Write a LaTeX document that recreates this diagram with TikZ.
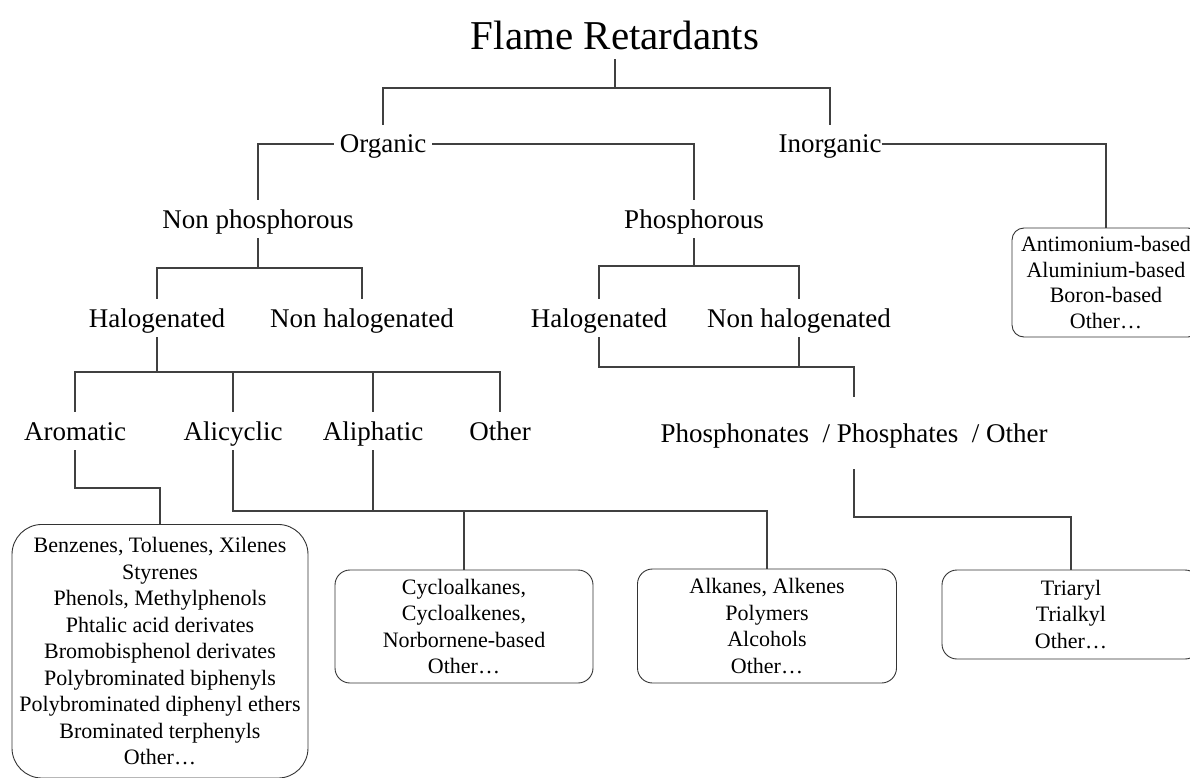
\documentclass[tikz,border=0pt]{standalone}
\usepackage{fontspec}
\setmainfont{Liberation Serif}
\usepackage{tikz}

\begin{document}
\begin{tikzpicture}[x=1pt, y=-1pt,
    conn/.style={draw=black!75, line width=1.1pt},
    ttl/.style={font=\fontsize{41}{48}\selectfont, anchor=base, text depth=0pt, inner ysep=9pt},
    lvl/.style={font=\fontsize{27}{32}\selectfont, anchor=base, text height=24pt, text depth=6pt, inner ysep=4pt, inner xsep=6pt},
    listbox/.style={draw=black!80, line width=0.9pt, rounded corners=15pt, align=center,
        font=\fontsize{22}{26.5}\selectfont, inner sep=0pt}]

    \useasboundingbox (0,0) rectangle (1190,778);
    \clip (0,0) rectangle (1190,778);

    % tree labels
    \node[ttl] (fr) at (615,50) {Flame Retardants};

    \node[lvl] (org) at (383,153) {Organic};
    \node[lvl, inner xsep=0pt] (inorg) at (830,153) {Inorganic};

    \node[lvl] (nonphos) at (258,228) {Non phosphorous};
    \node[lvl] (phos) at (694,228) {Phosphorous};

    \node[lvl] (halA) at (157,327) {Halogenated};
    \node[lvl] (nonhalA) at (362,327) {Non halogenated};
    \node[lvl] (halB) at (599,327) {Halogenated};
    \node[lvl] (nonhalB) at (799,327) {Non halogenated};

    \node[lvl] (arom) at (75,440) {Aromatic};
    \node[lvl] (alicy) at (233,440) {Alicyclic};
    \node[lvl] (aliph) at (373,440) {Aliphatic};
    \node[lvl] (othr) at (500,440) {Other};
    \node[lvl, inner ysep=21pt] (phosph) at (854,442) {Phosphonates\ \ / Phosphates\ \ / Other};

    % lists
    \node[listbox, rounded corners=30pt, anchor=north, minimum width=296pt, inner ysep=13pt] (aromBox) at (160,524)
        {Benzenes, Toluenes, Xilenes\\Styrenes\\Phenols, Methylphenols\\Phtalic acid derivates\\
         Bromobisphenol derivates\\Polybrominated biphenyls\\Polybrominated diphenyl ethers\\
         Brominated terphenyls\\Other…};
    \node[listbox, minimum width=258pt, minimum height=113pt] (cycBox) at (464,626.5)
        {Cycloalkanes,\\Cycloalkenes,\\Norbornene-based\\Other…};
    \node[listbox, minimum width=259pt, minimum height=114pt] (alkBox) at (767,626)
        {Alkanes, Alkenes\\Polymers\\Alcohols\\Other…};
    \node[listbox, minimum width=258pt, minimum height=89pt] (triBox) at (1071,614.5)
        {Triaryl\\Trialkyl\\Other…};
    \node[listbox, rounded corners=12pt, minimum width=188pt, minimum height=109pt,
        font=\fontsize{22}{25.5}\selectfont] (inorgBox) at (1106,282.5)
        {Antimonium-based\\Aluminium-based\\Boron-based\\Other…};

    % bus levels
    \coordinate (b0) at (615,88);
    \coordinate (b1) at (258,268);
    \coordinate (b2) at (694,266);
    \coordinate (b3) at (157,372);
    \coordinate (b4) at (854,367);
    \coordinate (b5) at (854,517);
    \coordinate (b6) at (160,488);
    \coordinate (b7) at (464,511);
    \coordinate (b8) at (767,511);

    % connectors
    \draw[conn] (fr.south) -- (b0);
    \draw[conn] (org.north) |- (b0) -| (inorg.north);

    \draw[conn] (org.west) -| (nonphos.north);
    \draw[conn] (org.east) -| (phos.north);
    \draw[conn] (inorg.east) -| (inorgBox.north);

    \draw[conn] (nonphos.south) -- (b1);
    \draw[conn] (halA.north) |- (b1) -| (nonhalA.north);
    \draw[conn] (phos.south) -- (b2);
    \draw[conn] (halB.north) |- (b2) -| (nonhalB.north);

    \draw[conn] (halA.south) -- (b3);
    \draw[conn] (arom.north) |- (b3) -| (othr.north);
    \draw[conn] (alicy.north) -- (alicy.north |- b3);
    \draw[conn] (aliph.north) -- (aliph.north |- b3);

    \draw[conn] (halB.south) |- (b4) -- (phosph.north);
    \draw[conn] (nonhalB.south) -- (nonhalB.south |- b4);
    \draw[conn] (phosph.south) -- (b5) -| (triBox.north);

    \draw[conn] (arom.south) |- (b6) -- (aromBox.north);
    \draw[conn] (alicy.south) |- (b7) -- (cycBox.north);
    \draw[conn] (aliph.south) |- (b8) -- (alkBox.north);

\end{tikzpicture}
\end{document}
